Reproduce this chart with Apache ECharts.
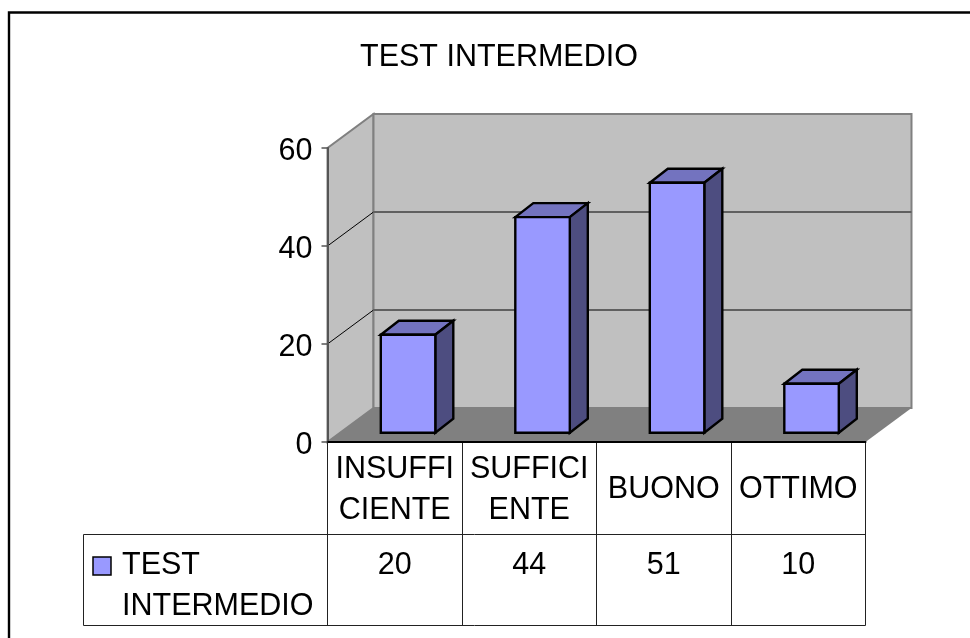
<!DOCTYPE html>
<html><head><meta charset="utf-8">
<style>html,body{margin:0;padding:0;background:#fff}#c{width:970px;height:638px}</style>
<script src="https://cdn.jsdelivr.net/npm/echarts@6/dist/echarts.min.js"></script>
</head><body><div id="c"></div>
<script>
const titleText = 'TEST INTERMEDIO';
const categories = ['INSUFFI\nCIENTE', 'SUFFICI\nENTE', 'BUONO', 'OTTIMO'];
const seriesName = 'TEST\nINTERMEDIO';
const values = [20, 44, 51, 10];
const yTicks = [0, 20, 40, 60];

const FONT = '"Liberation Sans", Arial, sans-serif';
const FS = 30.5;
const DEPTH = {x: 46, y: -34};
const BAR = {width: 54.5, ox: 13.3, oy: -9.3, dx: 18, dy: -14};
const TBL = {labelBottom: 534.5, rowBottom: 625.5, left: 83.5};

const chart = echarts.init(document.getElementById('c'), null, {renderer: 'canvas'});

function walls(params, api) {
  const r = params.coordSys, L = r.x, R = r.x + r.width, T = r.y, B = r.y + r.height;
  const d = DEPTH;
  const kids = [
    {type: 'polygon', shape: {points: [[L, B], [L + d.x, B + d.y], [R + d.x, B + d.y], [R, B]]},
     style: {fill: '#808080'}},
    {type: 'polygon', shape: {points: [[L, B], [L + d.x, B + d.y], [L + d.x, T + d.y], [L, T]]},
     style: {fill: '#c0c0c0', stroke: '#808080', lineWidth: 2}},
    {type: 'rect', shape: {x: L + d.x, y: T + d.y, width: r.width, height: r.height},
     style: {fill: '#c0c0c0', stroke: '#808080', lineWidth: 2}}
  ];
  yTicks.forEach(t => {
    if (t === 0 || t === 60) return;
    const y = api.coord([0, t])[1];
    kids.push({type: 'line', shape: {x1: L, y1: y, x2: L + d.x, y2: y + d.y},
      style: {stroke: '#000', lineWidth: 1}});
    kids.push({type: 'line', shape: {x1: L + d.x, y1: y + d.y, x2: R + d.x, y2: y + d.y},
      style: {stroke: '#606060', lineWidth: 2}});
  });
  return {type: 'group', children: kids};
}

function bar3d(params, api) {
  const c = api.coord([api.value(0), api.value(1)]);
  const b = api.coord([api.value(0), 0]);
  const l = c[0] + BAR.ox - BAR.width / 2, r = l + BAR.width;
  const t = c[1] + BAR.oy, bt = b[1] + BAR.oy;
  const dx = BAR.dx, dy = BAR.dy;
  const line = {stroke: '#000', lineWidth: 2.4, lineJoin: 'miter'};
  return {type: 'group', children: [
    {type: 'polygon', shape: {points: [[l, t], [l + dx, t + dy], [r + dx, t + dy], [r, t]]},
     style: Object.assign({fill: '#7373bf'}, line)},
    {type: 'polygon', shape: {points: [[r, t], [r + dx, t + dy], [r + dx, bt + dy], [r, bt]]},
     style: Object.assign({fill: '#4d4d80'}, line)},
    {type: 'rect', shape: {x: l, y: t, width: BAR.width, height: bt - t},
     style: Object.assign({fill: api.visual('color')}, line)}
  ]};
}

function table(params, api) {
  const r = params.coordSys, L = r.x, B = r.y + r.height, R = r.x + r.width;
  const w = r.width / categories.length;
  const stroke = {stroke: '#222', lineWidth: 1};
  const i = params.dataIndex;
  const kids = [];
  const cx = api.coord([i, 0])[0];
  kids.push({type: 'text', style: {text: String(api.value(1)), x: cx, y: TBL.labelBottom + 31, align: 'center',
    verticalAlign: 'middle', font: FS + 'px ' + FONT, fill: '#000'}});
  if (i === 0) {
    for (let k = 0; k <= categories.length; k++) {
      const x = Math.round(L + k * w - 0.5) + 0.5;
      kids.push({type: 'line', shape: {x1: x, y1: B, x2: x, y2: TBL.rowBottom}, style: stroke});
    }
    kids.push({type: 'line', shape: {x1: TBL.left, y1: TBL.labelBottom, x2: R, y2: TBL.labelBottom}, style: stroke});
    kids.push({type: 'line', shape: {x1: TBL.left, y1: TBL.rowBottom, x2: R, y2: TBL.rowBottom}, style: stroke});
    kids.push({type: 'line', shape: {x1: TBL.left, y1: TBL.labelBottom, x2: TBL.left, y2: TBL.rowBottom}, style: stroke});
    kids.push({type: 'rect', shape: {x: 93, y: 557, width: 18, height: 18},
      style: {fill: '#9999ff', stroke: '#000', lineWidth: 1.5}});
    kids.push({type: 'text', style: {text: seriesName, x: 122, y: 586.5, align: 'left', verticalAlign: 'middle',
      font: FS + 'px ' + FONT, lineHeight: 41, fill: '#000'}});
  }
  return {type: 'group', children: kids};
}

chart.setOption({
  animation: false,
  backgroundColor: '#fff',
  title: {text: titleText, left: 355, top: 37,
    textStyle: {fontFamily: FONT, fontSize: FS, fontWeight: 'normal', color: '#000'}},
  grid: {left: 327.5, top: 148, width: 538, height: 294},
  xAxis: {type: 'category', data: categories, z: 6,
    axisLine: {lineStyle: {color: '#000', width: 2}}, axisTick: {show: false},
    axisLabel: {interval: 0, margin: 48, color: '#000', fontFamily: FONT, fontSize: FS, lineHeight: 41, verticalAlign: 'middle'}},
  yAxis: {type: 'value', min: 0, max: 60, interval: 20, z: 6,
    axisLine: {show: true, lineStyle: {color: '#555', width: 2}},
    axisTick: {show: true, length: 6, lineStyle: {color: '#555', width: 1.5}},
    splitLine: {show: false},
    axisLabel: {margin: 15, verticalAlign: 'top', lineHeight: 8, color: '#000', fontFamily: FONT, fontSize: FS}},
  series: [
    {type: 'custom', name: 'walls', z: 1, silent: true, clip: false, data: [[0, 0]], renderItem: walls,
     encode: {x: 0, y: 1}},
    {type: 'custom', name: seriesName, z: 3, clip: false, itemStyle: {color: '#9999ff'},
     data: values.map((v, i) => [i, v]), renderItem: bar3d, encode: {x: 0, y: 1}},
    {type: 'custom', name: 'table', z: 4, silent: true, clip: false,
     data: values.map((v, i) => [i, v]), renderItem: table, encode: {x: 0, y: 1}}
  ],
  graphic: [{type: 'rect', z: 0, silent: true, shape: {x: 9, y: 12.5, width: 1200, height: 1000},
    style: {fill: 'none', stroke: '#000', lineWidth: 2.4}}]
});
</script></body></html>
